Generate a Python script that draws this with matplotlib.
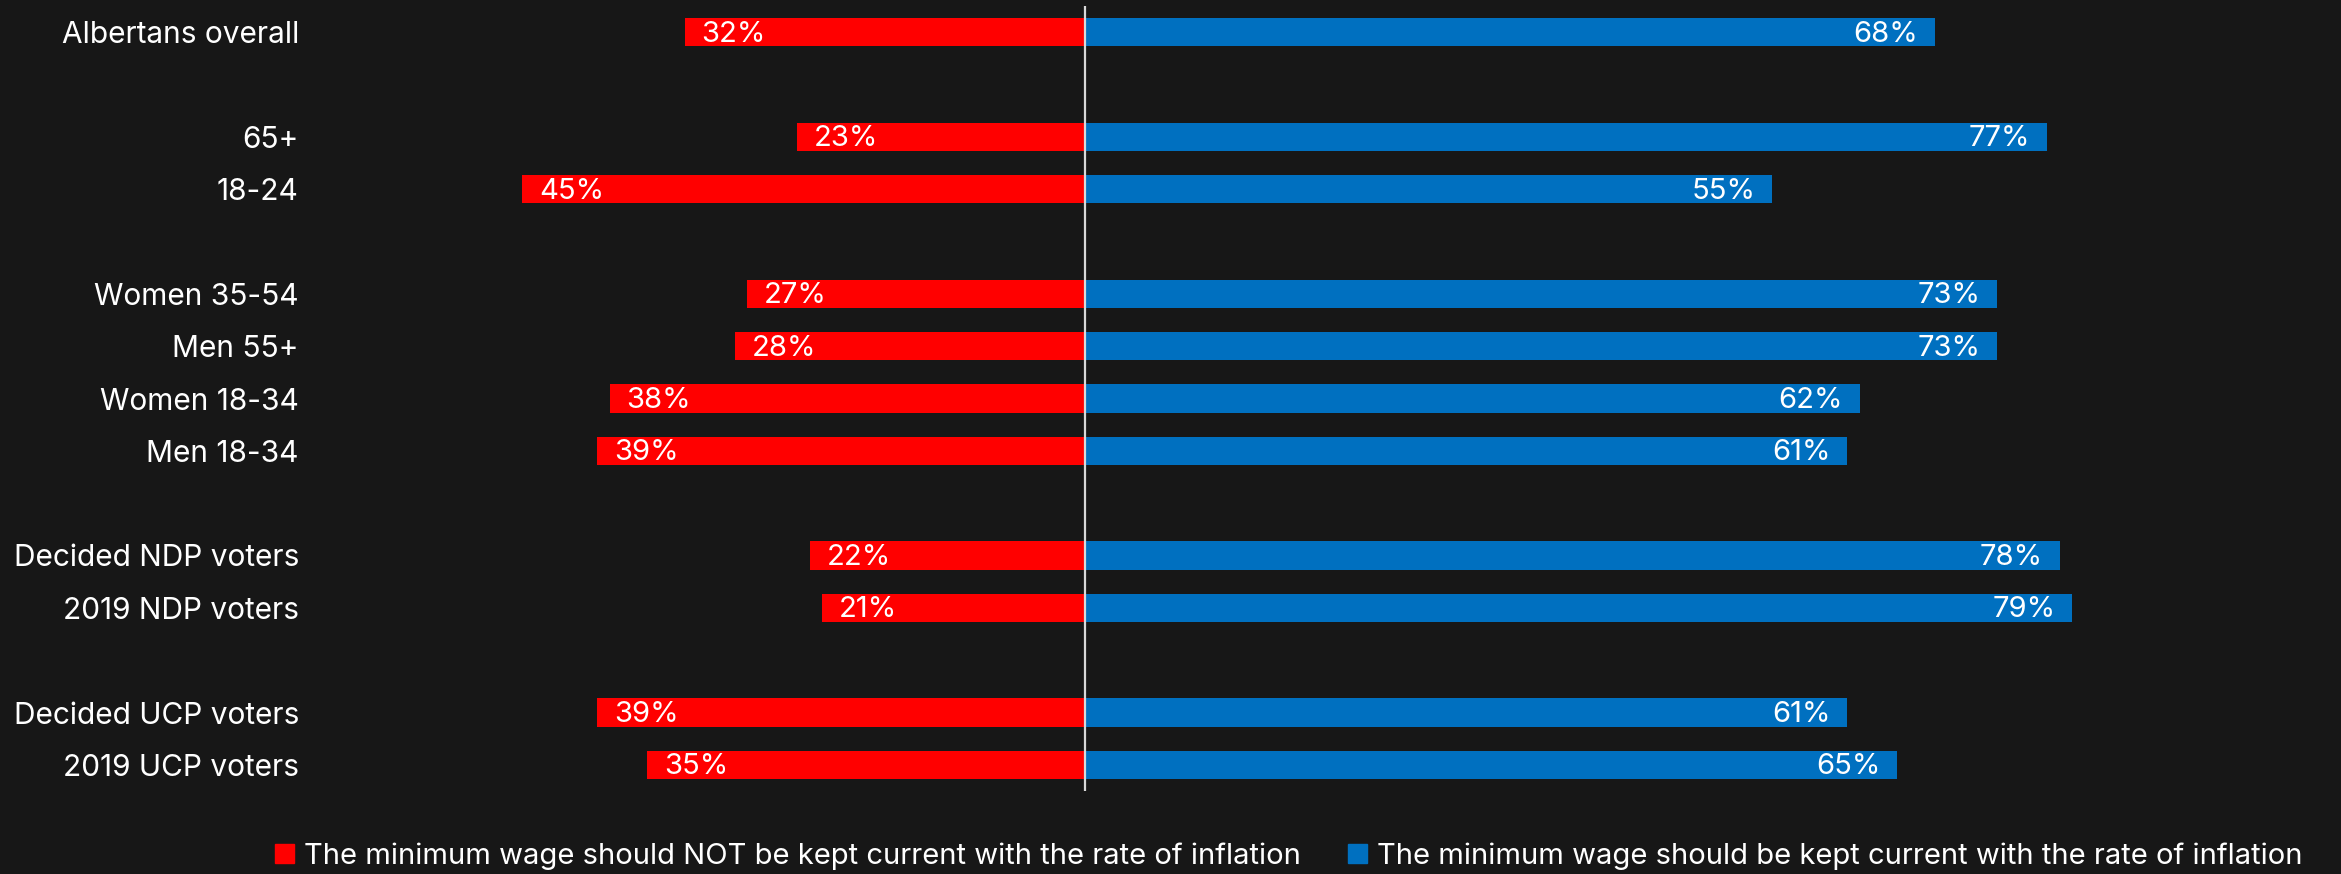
import matplotlib
matplotlib.use('Agg')
import matplotlib.pyplot as plt
from matplotlib.patches import Patch

plt.rcParams['font.family'] = ['Inter', 'DejaVu Sans']

groups = ['Albertans overall', '65+', '18-24', 'Women 35-54', 'Men 55+', 'Women 18-34',
          'Men 18-34', 'Decided NDP voters', '2019 NDP voters', 'Decided UCP voters',
          '2019 UCP voters']
rows = [0, 2, 3, 5, 6, 7, 8, 10, 11, 13, 14]
not_kept = [32, 23, 45, 27, 28, 38, 39, 22, 21, 39, 35]
kept = [68, 77, 55, 73, 73, 62, 61, 78, 79, 61, 65]
legend_labels = ['The minimum wage should NOT be kept current with the rate of inflation',
                 'The minimum wage should be kept current with the rate of inflation']

bg = '#171717'
red = '#ff0000'
blue = '#0070c0'

fig = plt.figure(figsize=(23.41, 8.74), dpi=100, facecolor=bg)
W, H = 2341, 874
ax = fig.add_axes([460 / W, 1 - 791 / H, (2147 - 460) / W, (791 - 6) / H])
ax.set_facecolor(bg)

ax.barh(rows, [-v for v in not_kept], height=0.54, color=red)
ax.barh(rows, kept, height=0.54, color=blue)
ax.axvline(0, color='#d9d9d9', lw=1.6)

for r, a, b in zip(rows, not_kept, kept):
    ax.annotate(f'{a}%', xy=(-a, r), xytext=(12, -1.5), textcoords='offset points',
                ha='left', va='center', color='white', fontsize=21)
    ax.annotate(f'{b}%', xy=(b, r), xytext=(-12, -1.5), textcoords='offset points',
                ha='right', va='center', color='white', fontsize=21)

ax.set_xlim(-50, 85)
ax.set_ylim(14.5, -0.5)
ax.set_yticks(rows)
ax.set_yticklabels(groups, color='white', fontsize=21.5)
ax.tick_params(axis='y', length=0, pad=116)
ax.set_xticks([])
for s in ax.spines.values():
    s.set_visible(False)

handles = [Patch(color=red), Patch(color=blue)]
fig.legend(handles, legend_labels, loc='center', bbox_to_anchor=(1289 / W, 1 - 856 / H),
           ncol=2, frameon=False, fontsize=21, labelcolor='white',
           handlelength=0.65, handleheight=0.65, handletextpad=0.35, columnspacing=1.6,
           borderpad=0, borderaxespad=0)

fig.savefig('out.png', dpi=100, facecolor=bg)
